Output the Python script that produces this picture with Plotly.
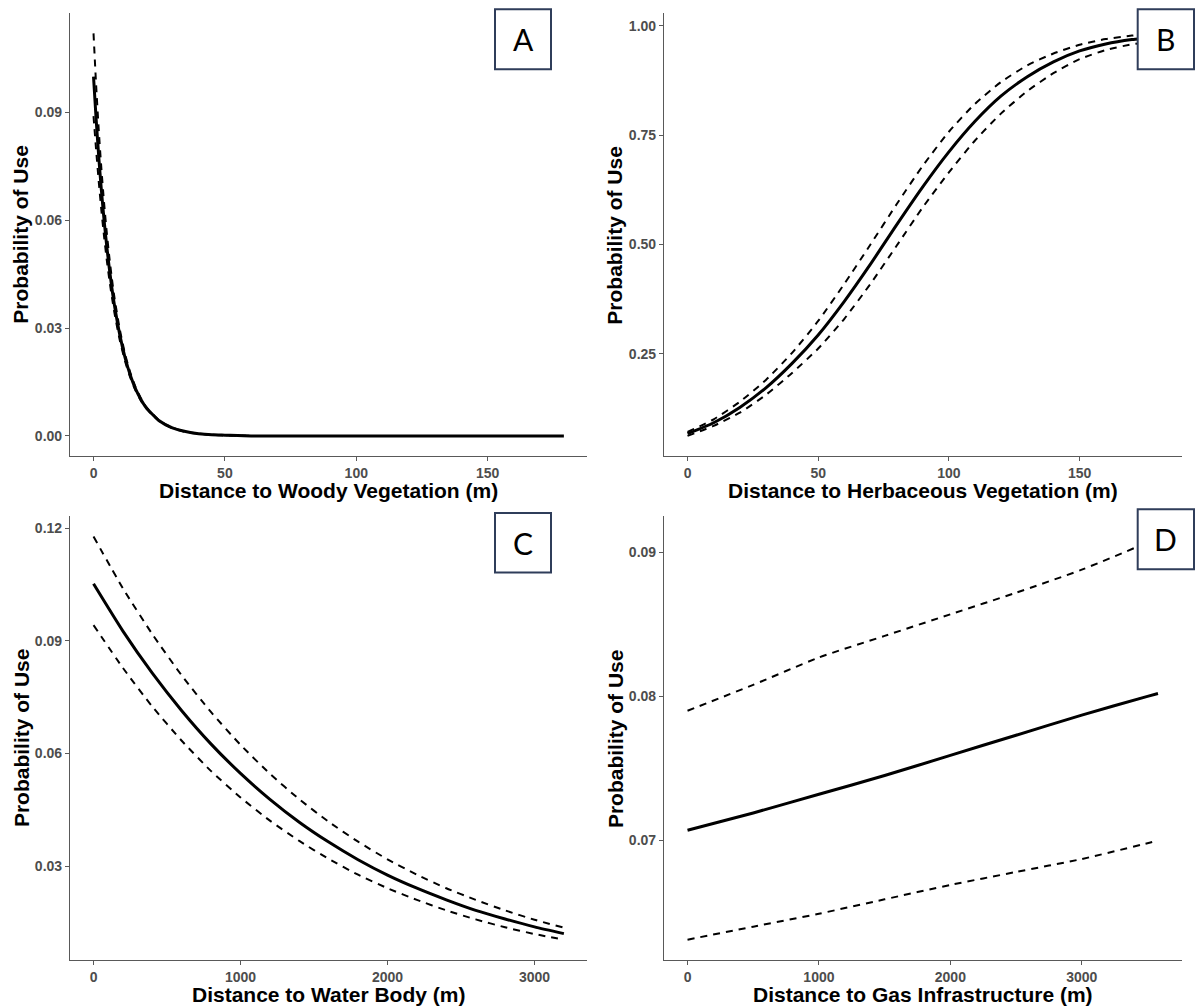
import plotly.graph_objects as go

# ---------------- Data ----------------
# Panel A: Distance to Woody Vegetation (m)
a_x = [0, 1, 2, 3, 4, 5, 6, 7, 8, 10, 12, 14, 16, 18, 20, 25, 30, 35, 40, 45, 50,
       60, 80, 100, 120, 140, 160, 179]
a_mean = [0.1000, 0.0881, 0.0776, 0.0683, 0.0602, 0.0530, 0.0467, 0.0411, 0.0362, 0.0281,
          0.0218, 0.0169, 0.0131, 0.0102, 0.0079, 0.0042, 0.0022, 0.0012, 0.0006, 0.0003,
          0.0002, 0.0, 0.0, 0.0, 0.0, 0.0, 0.0, 0.0]
a_upper = [0.1120, 0.0975, 0.0850, 0.0743, 0.0650, 0.0569, 0.0499, 0.0437, 0.0383, 0.0296,
           0.0228, 0.0176, 0.0136, 0.0105, 0.0081, 0.0043, 0.0023, 0.0012, 0.0006, 0.0003,
           0.0002, 0.0, 0.0, 0.0, 0.0, 0.0, 0.0, 0.0]
a_lower = [0.0890, 0.0795, 0.0707, 0.0627, 0.0556, 0.0492, 0.0436, 0.0386, 0.0341, 0.0266,
           0.0208, 0.0162, 0.0126, 0.0098, 0.0077, 0.0041, 0.0021, 0.0011, 0.0006, 0.0003,
           0.0001, 0.0, 0.0, 0.0, 0.0, 0.0, 0.0, 0.0]

# Panel B: Distance to Herbaceous Vegetation (m)
b_x = [0, 10, 20, 30, 40, 50, 60, 70, 80, 90, 100, 110, 120, 130, 140, 150, 160, 170, 180]
b_mean = [0.067, 0.092, 0.127, 0.172, 0.228, 0.293, 0.370, 0.455, 0.545, 0.632, 0.712,
          0.782, 0.840, 0.884, 0.918, 0.943, 0.959, 0.969, 0.975]
b_upper = [0.071, 0.100, 0.140, 0.190, 0.252, 0.325, 0.410, 0.500, 0.592, 0.680, 0.758,
           0.822, 0.872, 0.910, 0.937, 0.957, 0.970, 0.978, 0.983]
b_lower = [0.062, 0.085, 0.115, 0.156, 0.206, 0.262, 0.330, 0.410, 0.497, 0.585, 0.665,
           0.738, 0.800, 0.851, 0.892, 0.924, 0.945, 0.958, 0.965]

# Panel C: Distance to Water Body (m)
c_x = [0, 200, 400, 600, 800, 1000, 1200, 1400, 1600, 1800, 2000, 2200, 2400, 2600, 2800,
       3000, 3200]
c_mean = [0.1052, 0.0926, 0.0814, 0.0714, 0.0625, 0.0547, 0.0478, 0.0417, 0.0364, 0.0317,
          0.0276, 0.0241, 0.0210, 0.0182, 0.0159, 0.0138, 0.0120]
c_upper = [0.1178, 0.1040, 0.0918, 0.0808, 0.0710, 0.0623, 0.0546, 0.0478, 0.0418, 0.0365,
           0.0318, 0.0277, 0.0241, 0.0210, 0.0182, 0.0157, 0.0136]
c_lower = [0.0942, 0.0828, 0.0725, 0.0634, 0.0553, 0.0483, 0.0421, 0.0367, 0.0319, 0.0277,
           0.0241, 0.0210, 0.0182, 0.0158, 0.0137, 0.0119, 0.0104]

# Panel D: Distance to Gas Infrastructure (m)
d_x = [0, 500, 1000, 1500, 2000, 2500, 3000, 3500, 3580]
d_mean = [0.0707, 0.0719, 0.0732, 0.0745, 0.0759, 0.0773, 0.0787, 0.0800, 0.0802]
d_upper = [0.0790, 0.0808, 0.0827, 0.0842, 0.0857, 0.0872, 0.0888, 0.0907, 0.0911]
d_lower = [0.0631, 0.0640, 0.0649, 0.0659, 0.0669, 0.0678, 0.0687, 0.0698, 0.0700]

panels = [
    dict(key="A", x=a_x, mean=a_mean, up=a_upper, lo=a_lower,
         xtitle="Distance to Woody Vegetation (m)",
         xticks=[0, 50, 100, 150], yticks=[0.0, 0.03, 0.06, 0.09]),
    dict(key="B", x=b_x, mean=b_mean, up=b_upper, lo=b_lower,
         xtitle="Distance to Herbaceous Vegetation (m)",
         xticks=[0, 50, 100, 150], yticks=[0.25, 0.50, 0.75, 1.00]),
    dict(key="C", x=c_x, mean=c_mean, up=c_upper, lo=c_lower,
         xtitle="Distance to Water Body (m)",
         xticks=[0, 1000, 2000, 3000], yticks=[0.03, 0.06, 0.09, 0.12]),
    dict(key="D", x=d_x, mean=d_mean, up=d_upper, lo=d_lower,
         xtitle="Distance to Gas Infrastructure (m)",
         xticks=[0, 1000, 2000, 3000], yticks=[0.07, 0.08, 0.09]),
]

W, H = 1196, 1008
xdoms = [[70 / W, 587.4 / W], [664 / W, 1181.5 / W]]
ydoms = [[1 - 456 / H, 1 - 13.3 / H], [1 - 959.8 / H, 1 - 516.4 / H]]

fig = go.Figure()
axis_col = "#595959"
tick_font = dict(family="Liberation Sans, Arial, sans-serif", size=14, color="#4d4d4d", weight="bold")
title_font = dict(family="Liberation Sans, Arial, sans-serif", size=21, color="black")

for i, p in enumerate(panels):
    r, c = divmod(i, 2)
    n = i + 1
    xa = "x" if n == 1 else f"x{n}"
    ya = "y" if n == 1 else f"y{n}"
    # ggplot-like 5% expansion
    xmin, xmax = min(p["x"]), max(p["x"])
    allv = p["mean"] + p["up"] + p["lo"]
    ymin, ymax = min(allv), max(allv)
    xr = [xmin - 0.05 * (xmax - xmin), xmax + 0.05 * (xmax - xmin)]
    yr = [ymin - 0.05 * (ymax - ymin), ymax + 0.05 * (ymax - ymin)]

    for series, dash, wdt in ((p["up"], "7px,6px", 2.0), (p["lo"], "7px,6px", 2.0),
                              (p["mean"], "solid", 3.0)):
        fig.add_trace(go.Scatter(x=p["x"], y=series, mode="lines", xaxis=xa, yaxis=ya,
                                 line=dict(color="black", width=wdt, dash=dash, shape="spline",
                                           smoothing=0.6),
                                 showlegend=False, hoverinfo="skip"))

    axcommon = dict(showline=True, linecolor=axis_col, linewidth=1.2, ticks="outside",
                    ticklen=4, tickcolor=axis_col, tickwidth=1.1, showgrid=False,
                    zeroline=False, tickfont=tick_font, fixedrange=True)
    fig.update_layout(**{
        ("xaxis" if n == 1 else f"xaxis{n}"): dict(domain=xdoms[c], range=xr, anchor=ya,
                                                    tickvals=p["xticks"], **axcommon),
        ("yaxis" if n == 1 else f"yaxis{n}"): dict(domain=ydoms[r], range=yr, anchor=xa,
                                                    tickvals=p["yticks"],
                                                    tickformat=".2f", **axcommon),
    })

    # axis titles
    xc = (xdoms[c][0] + xdoms[c][1]) / 2
    fig.add_annotation(xref="paper", yref="paper", x=xc, y=ydoms[r][0] - 35 / H,
                       text=f"<b>{p['xtitle']}</b>", showarrow=False, font=title_font,
                       xanchor="center", yanchor="middle")
    fig.add_annotation(xref="paper", yref="paper", x=xdoms[c][0] - 49 / W,
                       y=(ydoms[r][0] + ydoms[r][1]) / 2,
                       text="<b>Probability of Use</b>", showarrow=False, font=title_font,
                       textangle=-90, xanchor="center", yanchor="middle")

# Panel letter boxes (pixel positions converted to paper coords)
boxes = {"A": (495, 551, 9.3, 69.3), "B": (1137.7, 1194, 9.3, 69.3),
         "C": (495, 551, 513, 572.6), "D": (1137.7, 1194, 509.3, 569.3)}
for k, (x0, x1, y0, y1) in boxes.items():
    fig.add_shape(type="rect", xref="paper", yref="paper", x0=x0 / W, x1=x1 / W,
                  y0=1 - y1 / H, y1=1 - y0 / H, fillcolor="white",
                  line=dict(color="#2f3d5a", width=2), layer="above")
    fig.add_annotation(xref="paper", yref="paper", x=(x0 + x1) / 2 / W, y=1 - (y0 + y1) / 2 / H,
                       text=k, showarrow=False, xanchor="center", yanchor="middle",
                       font=dict(family="Lato, Open Sans, sans-serif", size=30, color="black"))

fig.update_layout(width=W, height=H, margin=dict(l=0, r=0, t=0, b=0),
                  paper_bgcolor="white", plot_bgcolor="white", showlegend=False)

fig.write_html("out.html", config={"displayModeBar": False},
               post_script="document.body.style.margin='0';document.body.style.overflow='hidden';")
